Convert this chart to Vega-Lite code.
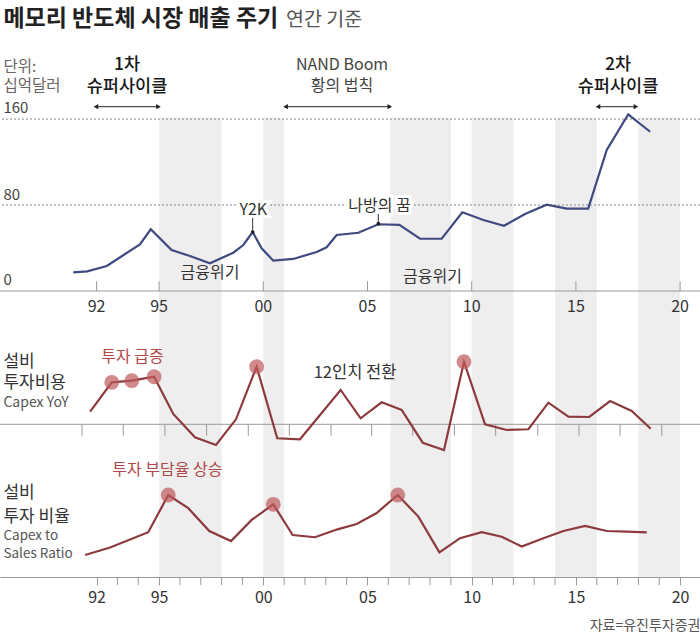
{
  "$schema": "https://vega.github.io/schema/vega-lite/v6.json",
  "description": "메모리 반도체 시장 매출 주기, 설비 투자비용 증감률과 설비 투자 비율",
  "width": 700,
  "height": 459,
  "autosize": {"type": "none"},
  "padding": {"top": 118, "bottom": 61, "left": 0, "right": 0},
  "background": "white",
  "config": {
    "view": {"stroke": null},
    "font": "Noto Sans CJK KR"
  },
  "datasets": {
    "bands": [
      {"a": 1995, "b": 1998},
      {"a": 2000, "b": 2001},
      {"a": 2006.1, "b": 2009},
      {"a": 2010, "b": 2012},
      {"a": 2014, "b": 2016},
      {"a": 2018, "b": 2020}
    ],
    "sales": [
      {"t": 1990.88, "v": 17.4}, {"t": 1991.55, "v": 18.3}, {"t": 1992.49, "v": 23.3},
      {"t": 1993.28, "v": 33.3}, {"t": 1994.08, "v": 43.4}, {"t": 1994.6, "v": 57.4},
      {"t": 1995.6, "v": 38.1}, {"t": 1996.48, "v": 32.6}, {"t": 1997.44, "v": 25.8},
      {"t": 1998.56, "v": 35.6}, {"t": 1999.04, "v": 42.8}, {"t": 1999.49, "v": 54.9},
      {"t": 1999.92, "v": 39.7}, {"t": 2000.48, "v": 28.2}, {"t": 2001.44, "v": 29.8},
      {"t": 2002.56, "v": 36.3}, {"t": 2003.04, "v": 40.7}, {"t": 2003.52, "v": 52.1},
      {"t": 2004.56, "v": 54.2}, {"t": 2005.52, "v": 62.1}, {"t": 2006.53, "v": 61.5},
      {"t": 2007.52, "v": 48.6}, {"t": 2008.56, "v": 48.6}, {"t": 2009.55, "v": 73.2},
      {"t": 2010.56, "v": 66.0}, {"t": 2011.55, "v": 60.7}, {"t": 2012.56, "v": 71.6},
      {"t": 2013.6, "v": 80.3}, {"t": 2014.56, "v": 76.6}, {"t": 2015.59, "v": 76.6},
      {"t": 2016.48, "v": 131.2}, {"t": 2017.51, "v": 164.4}, {"t": 2018.56, "v": 148.2}
    ],
    "capex": [
      {"t": 1991.69, "v": 21.0, "hl": false}, {"t": 1992.73, "v": 70.0, "hl": true},
      {"t": 1993.69, "v": 72.7, "hl": true}, {"t": 1994.76, "v": 79.3, "hl": true},
      {"t": 1995.68, "v": 17.2, "hl": false}, {"t": 1996.72, "v": -21.7, "hl": false},
      {"t": 1997.73, "v": -34.5, "hl": false}, {"t": 1998.69, "v": 8.3, "hl": false},
      {"t": 1999.68, "v": 96.0, "hl": true}, {"t": 2000.67, "v": -23.3, "hl": false},
      {"t": 2001.76, "v": -25.0, "hl": false}, {"t": 2003.71, "v": 57.2, "hl": false},
      {"t": 2004.67, "v": 10.0, "hl": false}, {"t": 2005.68, "v": 36.7, "hl": false},
      {"t": 2006.64, "v": 23.8, "hl": false}, {"t": 2007.65, "v": -30.7, "hl": false},
      {"t": 2008.67, "v": -42.8, "hl": false}, {"t": 2009.63, "v": 104.3, "hl": true},
      {"t": 2010.64, "v": 0.0, "hl": false}, {"t": 2011.68, "v": -9.5, "hl": false},
      {"t": 2012.72, "v": -8.3, "hl": false}, {"t": 2013.68, "v": 36.0, "hl": false},
      {"t": 2014.64, "v": 12.7, "hl": false}, {"t": 2015.64, "v": 12.2, "hl": false},
      {"t": 2016.64, "v": 38.8, "hl": false}, {"t": 2017.68, "v": 22.2, "hl": false},
      {"t": 2018.59, "v": -7.3, "hl": false}
    ],
    "ratio": [
      {"t": 1991.45, "v": 20.0, "hl": false}, {"t": 1992.65, "v": 23.1, "hl": false},
      {"t": 1994.48, "v": 29.5, "hl": false}, {"t": 1995.44, "v": 45.0, "hl": true},
      {"t": 1996.4, "v": 39.5, "hl": false}, {"t": 1997.41, "v": 30.0, "hl": false},
      {"t": 1998.45, "v": 25.8, "hl": false}, {"t": 1999.44, "v": 34.6, "hl": false},
      {"t": 2000.48, "v": 41.1, "hl": true}, {"t": 2001.41, "v": 28.3, "hl": false},
      {"t": 2002.48, "v": 27.4, "hl": false}, {"t": 2003.56, "v": 30.7, "hl": false},
      {"t": 2004.48, "v": 32.9, "hl": false}, {"t": 2005.44, "v": 37.5, "hl": false},
      {"t": 2006.45, "v": 45.0, "hl": true}, {"t": 2007.44, "v": 36.0, "hl": false},
      {"t": 2008.45, "v": 21.1, "hl": false}, {"t": 2009.44, "v": 27.0, "hl": false},
      {"t": 2010.48, "v": 29.5, "hl": false}, {"t": 2011.44, "v": 27.6, "hl": false},
      {"t": 2012.4, "v": 23.5, "hl": false}, {"t": 2013.44, "v": 27.0, "hl": false},
      {"t": 2014.4, "v": 30.0, "hl": false}, {"t": 2015.44, "v": 32.1, "hl": false},
      {"t": 2016.48, "v": 30.0, "hl": false}, {"t": 2017.44, "v": 29.7, "hl": false},
      {"t": 2018.4, "v": 29.4, "hl": false}
    ],
    "topgrid": [{"v": 160}, {"v": 80}],
    "topticks": [
      {"t": 1992, "lab": "92"}, {"t": 1995, "lab": "95"}, {"t": 2000, "lab": "00"},
      {"t": 2005, "lab": "05"}, {"t": 2010, "lab": "10"}, {"t": 2015, "lab": "15"},
      {"t": 2020, "lab": "20"}
    ],
    "midticks": [
      {"t": 1991.3}, {"t": 1993.28}, {"t": 1995.28}, {"t": 1997.28}, {"t": 1999.28},
      {"t": 2001.25}, {"t": 2003.25}, {"t": 2005.2}, {"t": 2007.17}, {"t": 2009.17},
      {"t": 2011.15}, {"t": 2013.17}, {"t": 2015.15}, {"t": 2017.12}, {"t": 2019.12}
    ],
    "botticks": [
      {"t": 1993}, {"t": 1994}, {"t": 1996}, {"t": 1997}, {"t": 1998}, {"t": 1999},
      {"t": 2001}, {"t": 2002}, {"t": 2003}, {"t": 2004}, {"t": 2006}, {"t": 2007},
      {"t": 2008}, {"t": 2009}, {"t": 2011}, {"t": 2012}, {"t": 2013}, {"t": 2014},
      {"t": 2016}, {"t": 2017}, {"t": 2018}, {"t": 2019}
    ],
    "arrows": [
      {"a": 1991.97, "b": 1994.97, "v": 171.5},
      {"a": 2001.07, "b": 2006.07, "v": 171.5},
      {"a": 2016.06, "b": 2017.88, "v": 171.5}
    ],
    "leaders": [
      {"t": 1999.49, "v": 67.9, "v2": 54.9},
      {"t": 2005.52, "v": 71.7, "v2": 62.6}
    ],
    "topnotes": [
      {"kind": "title", "t": 1987.53, "v": 247.0, "text": "메모리 반도체 시장 매출 주기"},
      {"kind": "sub", "t": 2001.09, "v": 247.0, "text": "연간 기준"},
      {"kind": "unit", "t": 1987.53, "v": 208.7, "text": "단위:"},
      {"kind": "unit", "t": 1987.53, "v": 190.8, "text": "십억달러"},
      {"kind": "ylab", "t": 1987.53, "v": 170.0, "text": "160"},
      {"kind": "ylab", "t": 1987.53, "v": 89.3, "text": "80"},
      {"kind": "ylab", "t": 1987.53, "v": 10.2, "text": "0"},
      {"kind": "head", "t": 1993.46, "v": 209.9, "text": "1차"},
      {"kind": "head", "t": 1993.46, "v": 189.4, "text": "슈퍼사이클"},
      {"kind": "head", "t": 2017.02, "v": 209.9, "text": "2차"},
      {"kind": "head", "t": 2017.02, "v": 189.4, "text": "슈퍼사이클"},
      {"kind": "mid", "t": 2003.78, "v": 210.3, "text": "NAND Boom"},
      {"kind": "mid", "t": 2003.78, "v": 190.8, "text": "황의 법칙"},
      {"kind": "note", "t": 1997.44, "v": 16.8, "text": "금융위기"},
      {"kind": "note", "t": 2008.12, "v": 13.0, "text": "금융위기"},
      {"kind": "callout", "t": 1999.52, "v": 75.4, "text": "Y2K"},
      {"kind": "callout", "t": 2005.58, "v": 79.1, "text": "나방의 꿈"}
    ],
    "midnotes": [
      {"kind": "lab", "t": 1987.53, "v": 104.3, "text": "설비"},
      {"kind": "lab", "t": 1987.53, "v": 68.3, "text": "투자비용"},
      {"kind": "en", "t": 1987.53, "v": 36.0, "text": "Capex YoY"},
      {"kind": "red", "t": 1993.72, "v": 112.7, "text": "투자 급증"},
      {"kind": "note", "t": 2004.4, "v": 85.0, "text": "12인치 전환"}
    ],
    "botnotes": [
      {"kind": "lab", "t": 1987.53, "v": 45.7, "text": "설비"},
      {"kind": "lab", "t": 1987.53, "v": 36.0, "text": "투자 비율"},
      {"kind": "en", "t": 1987.53, "v": 27.9, "text": "Capex to"},
      {"kind": "en", "t": 1987.53, "v": 20.3, "text": "Sales Ratio"},
      {"kind": "red", "t": 1995.4, "v": 55.4, "text": "투자 부담율 상승"}
    ]
  },
  "layer": [
    {
      "data": {"name": "bands"},
      "mark": {"type": "rect", "color": "#eeeeee"},
      "encoding": {
        "x": {
          "field": "a",
          "type": "quantitative",
          "scale": {"domain": [1987.366, 2020.955], "nice": false, "zero": false},
          "axis": {
            "values": [1992, 1995, 2000, 2005, 2010, 2015, 2020],
            "format": "d",
            "labelExpr": "slice(datum.label, 2)",
            "labelOverlap": false,
            "labelFontSize": 16,
            "labelColor": "#333333",
            "labelPadding": 4,
            "tickSize": 8,
            "tickColor": "#999999",
            "domainColor": "#999999",
            "grid": false,
            "title": "자료=유진투자증권",
            "titleAnchor": "end",
            "titleAlign": "right",
            "titleFontSize": 14,
            "titleFontWeight": "normal",
            "titleColor": "#555555",
            "titlePadding": 13
          }
        },
        "x2": {"field": "b"}
      }
    },
    {
      "encoding": {
        "y": {
          "type": "quantitative",
          "scale": {"domain": [-266.2, 161], "nice": false, "zero": false},
          "axis": null
        }
      },
      "layer": [
        {
          "data": {"name": "topgrid"},
          "mark": {"type": "rule", "color": "#8a8a8a", "strokeWidth": 1, "strokeDash": [2, 2]},
          "encoding": {"y": {"field": "v"}}
        },
        {
          "data": {"values": [{"v": 0}]},
          "mark": {"type": "rule", "color": "#999999", "strokeWidth": 1},
          "encoding": {"y": {"field": "v"}}
        },
        {
          "data": {"name": "topticks"},
          "mark": {"type": "rule", "color": "#999999", "strokeWidth": 1},
          "encoding": {
            "x": {"field": "t", "type": "quantitative"},
            "y": {"datum": 0},
            "y2": {"datum": 9}
          }
        },
        {
          "data": {"name": "topticks"},
          "mark": {"type": "text", "fontSize": 16, "color": "#333333", "align": "center", "baseline": "middle"},
          "encoding": {
            "x": {"field": "t", "type": "quantitative"},
            "y": {"datum": -14.6},
            "text": {"field": "lab"}
          }
        },
        {
          "data": {"name": "sales"},
          "mark": {"type": "line", "color": "#3f4a80", "strokeWidth": 2.2},
          "encoding": {
            "x": {"field": "t", "type": "quantitative"},
            "y": {"field": "v"}
          }
        },
        {
          "data": {"name": "leaders"},
          "mark": {"type": "rule", "color": "#333333", "strokeWidth": 1},
          "encoding": {
            "x": {"field": "t", "type": "quantitative"},
            "y": {"field": "v"},
            "y2": {"field": "v2"}
          }
        },
        {
          "data": {"name": "leaders"},
          "mark": {"type": "point", "filled": true, "size": 14, "color": "#222222", "opacity": 1},
          "encoding": {
            "x": {"field": "t", "type": "quantitative"},
            "y": {"field": "v2"}
          }
        },
        {
          "data": {"name": "arrows"},
          "mark": {"type": "rule", "color": "#222222", "strokeWidth": 1},
          "encoding": {
            "x": {"field": "a", "type": "quantitative"},
            "x2": {"field": "b"},
            "y": {"field": "v"}
          }
        },
        {
          "data": {"name": "arrows"},
          "mark": {"type": "point", "shape": "triangle-left", "filled": true, "size": 28, "color": "#222222", "opacity": 1},
          "encoding": {
            "x": {"field": "a", "type": "quantitative"},
            "y": {"field": "v"}
          }
        },
        {
          "data": {"name": "arrows"},
          "mark": {"type": "point", "shape": "triangle-right", "filled": true, "size": 28, "color": "#222222", "opacity": 1},
          "encoding": {
            "x": {"field": "b", "type": "quantitative"},
            "y": {"field": "v"}
          }
        },
        {
          "data": {"name": "topnotes"},
          "transform": [{"filter": "datum.kind === 'title'"}],
          "mark": {"type": "text", "fontSize": 23, "fontWeight": "bold", "color": "#222222", "align": "left", "baseline": "alphabetic"},
          "encoding": {
            "x": {"field": "t", "type": "quantitative"},
            "y": {"field": "v"},
            "text": {"field": "text"}
          }
        },
        {
          "data": {"name": "topnotes"},
          "transform": [{"filter": "datum.kind === 'sub'"}],
          "mark": {"type": "text", "fontSize": 19.5, "color": "#555555", "align": "left", "baseline": "alphabetic"},
          "encoding": {
            "x": {"field": "t", "type": "quantitative"},
            "y": {"field": "v"},
            "text": {"field": "text"}
          }
        },
        {
          "data": {"name": "topnotes"},
          "transform": [{"filter": "datum.kind === 'unit'"}],
          "mark": {"type": "text", "fontSize": 15.5, "color": "#666666", "align": "left", "baseline": "middle"},
          "encoding": {
            "x": {"field": "t", "type": "quantitative"},
            "y": {"field": "v"},
            "text": {"field": "text"}
          }
        },
        {
          "data": {"name": "topnotes"},
          "transform": [{"filter": "datum.kind === 'ylab'"}],
          "mark": {"type": "text", "fontSize": 15, "color": "#444444", "align": "left", "baseline": "middle"},
          "encoding": {
            "x": {"field": "t", "type": "quantitative"},
            "y": {"field": "v"},
            "text": {"field": "text"}
          }
        },
        {
          "data": {"name": "topnotes"},
          "transform": [{"filter": "datum.kind === 'head'"}],
          "mark": {"type": "text", "fontSize": 17.5, "fontWeight": 500, "color": "#1a1a1a", "align": "center", "baseline": "middle"},
          "encoding": {
            "x": {"field": "t", "type": "quantitative"},
            "y": {"field": "v"},
            "text": {"field": "text"}
          }
        },
        {
          "data": {"name": "topnotes"},
          "transform": [{"filter": "datum.kind === 'mid'"}],
          "mark": {"type": "text", "fontSize": 16, "color": "#444444", "align": "center", "baseline": "middle"},
          "encoding": {
            "x": {"field": "t", "type": "quantitative"},
            "y": {"field": "v"},
            "text": {"field": "text"}
          }
        },
        {
          "data": {"name": "topnotes"},
          "transform": [{"filter": "datum.kind === 'note'"}],
          "mark": {"type": "text", "fontSize": 16, "color": "#333333", "align": "center", "baseline": "middle"},
          "encoding": {
            "x": {"field": "t", "type": "quantitative"},
            "y": {"field": "v"},
            "text": {"field": "text"}
          }
        },
        {
          "data": {"name": "topnotes"},
          "transform": [{"filter": "datum.kind === 'callout'"}],
          "mark": {"type": "text", "fontSize": 16, "color": "white", "stroke": "white", "strokeWidth": 6, "align": "center", "baseline": "middle"},
          "encoding": {
            "x": {"field": "t", "type": "quantitative"},
            "y": {"field": "v"},
            "text": {"field": "text"}
          }
        },
        {
          "data": {"name": "topnotes"},
          "transform": [{"filter": "datum.kind === 'callout'"}],
          "mark": {"type": "text", "fontSize": 16, "color": "#333333", "align": "center", "baseline": "middle"},
          "encoding": {
            "x": {"field": "t", "type": "quantitative"},
            "y": {"field": "v"},
            "text": {"field": "text"}
          }
        }
      ]
    },
    {
      "encoding": {
        "y": {
          "type": "quantitative",
          "scale": {"domain": [-254.5, 510.5], "nice": false, "zero": false},
          "axis": null
        }
      },
      "layer": [
        {
          "data": {"values": [{"v": 0}]},
          "mark": {"type": "rule", "color": "#999999", "strokeWidth": 1},
          "encoding": {"y": {"field": "v"}}
        },
        {
          "data": {"name": "midticks"},
          "mark": {"type": "rule", "color": "#999999", "strokeWidth": 1},
          "encoding": {
            "x": {"field": "t", "type": "quantitative"},
            "y": {"datum": 0},
            "y2": {"datum": -19}
          }
        },
        {
          "data": {"name": "capex"},
          "mark": {"type": "line", "color": "#8c3a3e", "strokeWidth": 2.2},
          "encoding": {
            "x": {"field": "t", "type": "quantitative"},
            "y": {"field": "v"}
          }
        },
        {
          "data": {"name": "capex"},
          "transform": [{"filter": "datum.hl"}],
          "mark": {"type": "point", "filled": true, "size": 220, "color": "#bf5a5c", "opacity": 0.7},
          "encoding": {
            "x": {"field": "t", "type": "quantitative"},
            "y": {"field": "v"}
          }
        },
        {
          "data": {"name": "midnotes"},
          "transform": [{"filter": "datum.kind === 'lab'"}],
          "mark": {"type": "text", "fontSize": 17, "color": "#333333", "align": "left", "baseline": "middle"},
          "encoding": {
            "x": {"field": "t", "type": "quantitative"},
            "y": {"field": "v"},
            "text": {"field": "text"}
          }
        },
        {
          "data": {"name": "midnotes"},
          "transform": [{"filter": "datum.kind === 'en'"}],
          "mark": {"type": "text", "fontSize": 14, "color": "#555555", "align": "left", "baseline": "middle"},
          "encoding": {
            "x": {"field": "t", "type": "quantitative"},
            "y": {"field": "v"},
            "text": {"field": "text"}
          }
        },
        {
          "data": {"name": "midnotes"},
          "transform": [{"filter": "datum.kind === 'red'"}],
          "mark": {"type": "text", "fontSize": 16, "color": "#b0474a", "align": "center", "baseline": "middle"},
          "encoding": {
            "x": {"field": "t", "type": "quantitative"},
            "y": {"field": "v"},
            "text": {"field": "text"}
          }
        },
        {
          "data": {"name": "midnotes"},
          "transform": [{"filter": "datum.kind === 'note'"}],
          "mark": {"type": "text", "fontSize": 16.5, "color": "#333333", "align": "center", "baseline": "middle"},
          "encoding": {
            "x": {"field": "t", "type": "quantitative"},
            "y": {"field": "v"},
            "text": {"field": "text"}
          }
        }
      ]
    },
    {
      "encoding": {
        "y": {
          "type": "quantitative",
          "scale": {"domain": [10.833, 202.083], "nice": false, "zero": false},
          "axis": null
        }
      },
      "layer": [
        {
          "data": {"name": "botticks"},
          "mark": {"type": "rule", "color": "#999999", "strokeWidth": 1},
          "encoding": {
            "x": {"field": "t", "type": "quantitative"},
            "y": {"datum": 10.833},
            "y2": {"datum": 7.5}
          }
        },
        {
          "data": {"name": "ratio"},
          "mark": {"type": "line", "color": "#8c3a3e", "strokeWidth": 2.2},
          "encoding": {
            "x": {"field": "t", "type": "quantitative"},
            "y": {"field": "v"}
          }
        },
        {
          "data": {"name": "ratio"},
          "transform": [{"filter": "datum.hl"}],
          "mark": {"type": "point", "filled": true, "size": 220, "color": "#bf5a5c", "opacity": 0.7},
          "encoding": {
            "x": {"field": "t", "type": "quantitative"},
            "y": {"field": "v"}
          }
        },
        {
          "data": {"name": "botnotes"},
          "transform": [{"filter": "datum.kind === 'lab'"}],
          "mark": {"type": "text", "fontSize": 17, "color": "#333333", "align": "left", "baseline": "middle"},
          "encoding": {
            "x": {"field": "t", "type": "quantitative"},
            "y": {"field": "v"},
            "text": {"field": "text"}
          }
        },
        {
          "data": {"name": "botnotes"},
          "transform": [{"filter": "datum.kind === 'en'"}],
          "mark": {"type": "text", "fontSize": 13.5, "color": "#555555", "align": "left", "baseline": "middle"},
          "encoding": {
            "x": {"field": "t", "type": "quantitative"},
            "y": {"field": "v"},
            "text": {"field": "text"}
          }
        },
        {
          "data": {"name": "botnotes"},
          "transform": [{"filter": "datum.kind === 'red'"}],
          "mark": {"type": "text", "fontSize": 16, "color": "#b0474a", "align": "center", "baseline": "middle"},
          "encoding": {
            "x": {"field": "t", "type": "quantitative"},
            "y": {"field": "v"},
            "text": {"field": "text"}
          }
        }
      ]
    }
  ],
  "resolve": {"scale": {"y": "independent"}}
}
